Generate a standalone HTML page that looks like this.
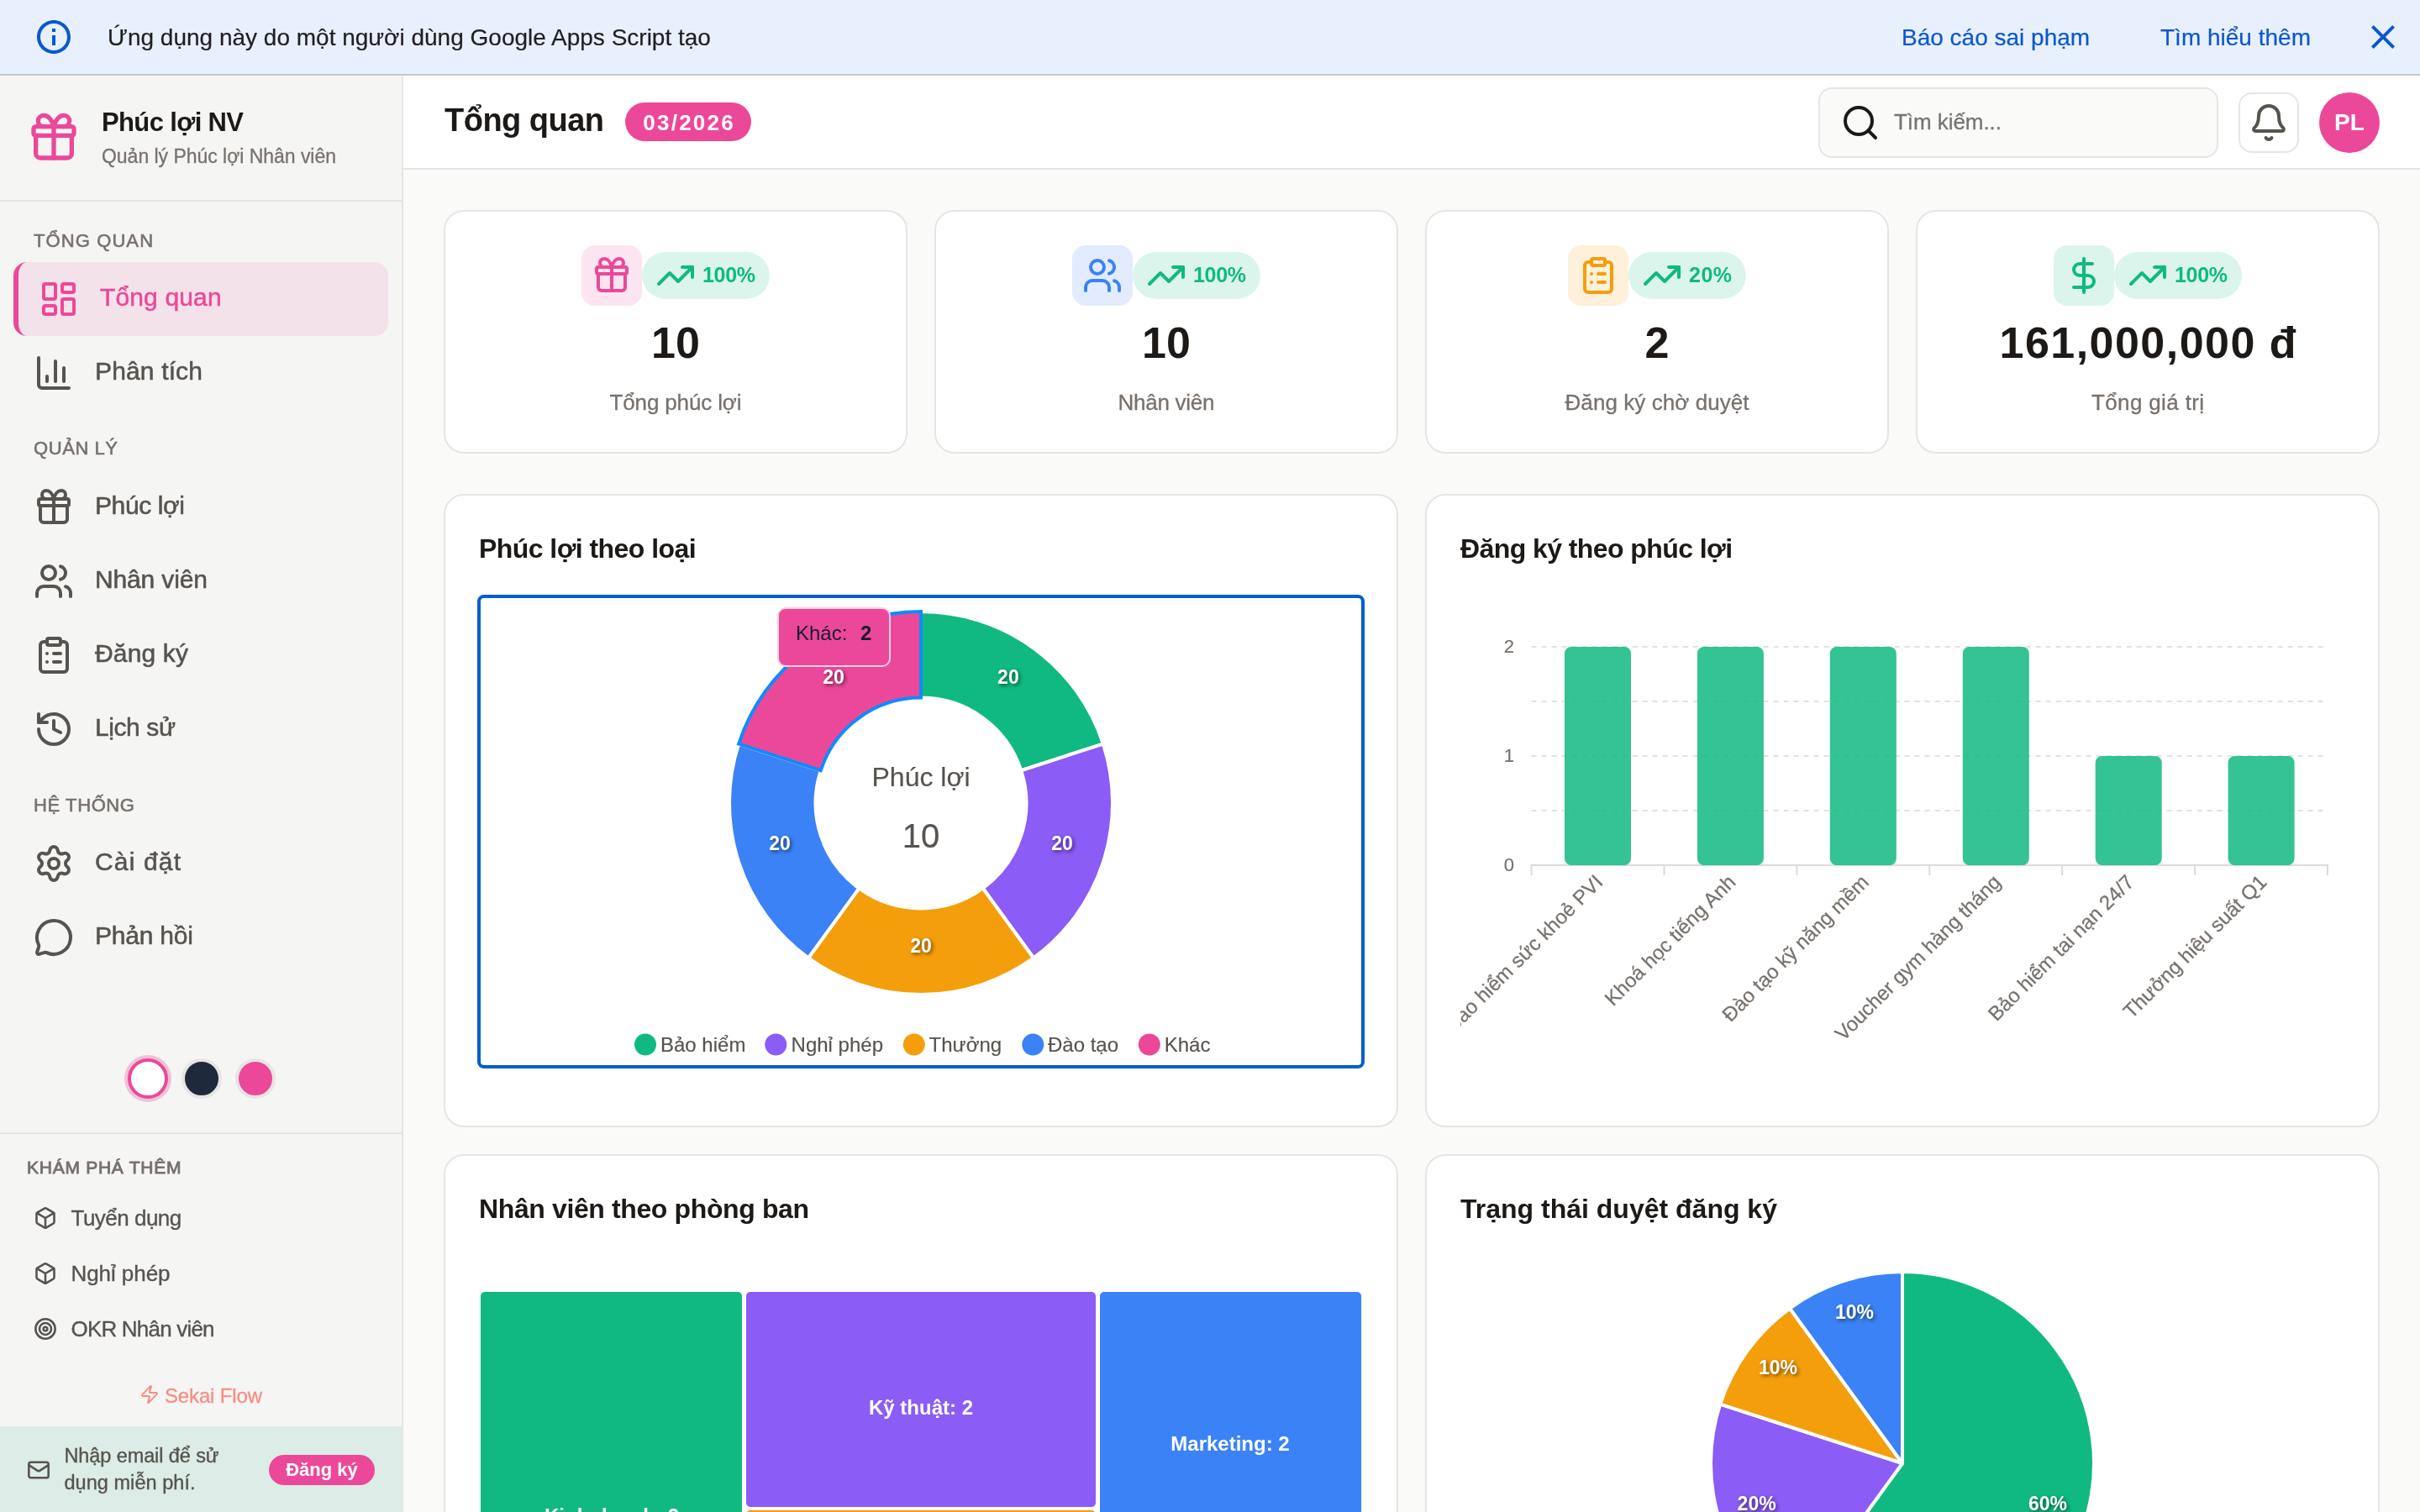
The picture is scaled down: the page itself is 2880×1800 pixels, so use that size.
<!DOCTYPE html><html lang="vi"><head><meta charset="utf-8"><title>Phúc lợi NV</title><style>
*{box-sizing:border-box;margin:0;padding:0}
html,body{width:2880px;height:1800px;overflow:hidden;background:#fafaf9;font-family:'Liberation Sans', sans-serif}
body{position:relative;will-change:transform}
.t{position:absolute;white-space:pre;display:block}
.ic{position:absolute;display:block;overflow:visible}
.banner{position:absolute;background:#e8f0fe;border-bottom:2px solid #c7c7c7}
.sidebar{position:absolute;background:#f5f5f4;border-right:2px solid #e7e5e4;overflow:hidden}
.sb-head{position:absolute;border-bottom:2px solid #e7e5e4}
.nav-active{position:absolute;border-radius:16px;background:#f4e2ea;border-left:6px solid #ec4899}
.dot{position:absolute;border-radius:50%;border:4px solid #e7e5e4;background-clip:padding-box}
.dot1{background:#fff;border:4px solid #ec4899;box-shadow:0 0 0 4px rgba(236,72,153,.3)}
.sb-div{position:absolute;background:#e7e5e4}
.sb-cta{position:absolute;background:#dcece6}
.cta-btn{position:absolute;border-radius:18px;background:#ec4899}
.topbar{position:absolute;background:#fff;border-bottom:2px solid #e7e5e4}
.badge{position:absolute;border-radius:23px;background:#ec4899}
.search{position:absolute;border-radius:16px;border:2px solid #e7e5e4;background:#fafaf9}
.bellbtn{position:absolute;border-radius:16px;border:2px solid #e7e5e4;background:#fff}
.avatar{position:absolute;border-radius:50%;background:#ec4899}
.main{position:absolute;background:#fafaf9;overflow:hidden}
.card{position:absolute;background:#fff;border:2px solid #e7e5e4;border-radius:24px}
.ibox{position:absolute;border-radius:16px}
.pct{position:absolute;border-radius:28px;background:#dbf5ec}
.focus{position:absolute;border:4px solid #005fcc;border-radius:8px}
.dl{text-shadow:2px 2px 4px rgba(0,0,0,.55)}
.tip{position:absolute;background:#ec4899;border:2px solid rgba(255,255,255,.75);border-radius:10px}
.tm{position:absolute;border-radius:5px}
.clip{position:absolute;overflow:hidden}
.xl{position:absolute;white-space:pre;font-size:24px;line-height:24px;color:#78716c;-webkit-text-stroke:.25px;transform-origin:100% 50%;transform:rotate(-45deg)}
</style></head><body><div class="banner" style="left:0px;top:0px;width:2880px;height:90px;"><svg class="ic" style="left:40px;top:20px" width="48" height="48" viewBox="0 0 24 24" fill="#0b57d0"><path d="M11 7h2v2h-2zm0 4h2v6h-2zm1-9C6.48 2 2 6.48 2 12s4.48 10 10 10 10-4.48 10-10S17.52 2 12 2zm0 18c-4.41 0-8-3.59-8-8s3.59-8 8-8 8 3.59 8 8-3.59 8-8 8z"/></svg><span class="t" style="left:128.0px;top:31.3px;font-size:28px;line-height:28px;color:#1f1f1f;-webkit-text-stroke:0.2px;">Ứng dụng này do một người dùng Google Apps Script tạo</span><span class="t" style="left:2263.0px;top:31.3px;font-size:28px;line-height:28px;color:#0b57d0;-webkit-text-stroke:0.2px;">Báo cáo sai phạm</span><span class="t" style="left:2571.0px;top:31.3px;font-size:28px;line-height:28px;color:#0b57d0;-webkit-text-stroke:0.2px;">Tìm hiểu thêm</span><svg class="ic" style="left:2812px;top:20px" width="48" height="48" viewBox="0 0 24 24" fill="#0b57d0"><path d="M19 6.41L17.59 5 12 10.59 6.41 5 5 6.41 10.59 12 5 17.59 6.41 19 12 13.41 17.59 19 19 17.59 13.41 12z"/></svg></div><aside class="sidebar" style="left:0px;top:90px;width:480px;height:1710px;"><div class="sb-head" style="left:0px;top:0px;width:478px;height:150px;"></div><svg class="ic" style="left:32px;top:42px" width="64" height="64" viewBox="0 0 24 24" fill="none" stroke="#ec4899" stroke-width="2" stroke-linecap="round" stroke-linejoin="round"><rect x="3" y="7" width="18" height="4" rx="1"/><path d="M12 7v14"/><path d="M20 11v8a2 2 0 0 1-2 2H6a2 2 0 0 1-2-2v-8"/><path d="M7.5 7a2.5 2.5 0 0 1 0-5A4.8 8 0 0 1 12 7a4.8 8 0 0 1 4.5-5 2.5 2.5 0 0 1 0 5"/></svg><span class="t" style="left:121.0px;top:39.8px;font-size:31px;line-height:31px;color:#1c1917;font-weight:700;letter-spacing:-0.63px;">Phúc lợi NV</span><span class="t" style="left:121.0px;top:84.9px;font-size:23px;line-height:23px;color:#78716c;letter-spacing:-0.03px;-webkit-text-stroke:0.3px;">Quản lý Phúc lợi Nhân viên</span><span class="t" style="left:40.0px;top:186.2px;font-size:22px;line-height:22px;color:#78716c;letter-spacing:1.1px;-webkit-text-stroke:0.6px;">TỔNG QUAN</span><span class="t" style="left:40.0px;top:433.2px;font-size:22px;line-height:22px;color:#78716c;letter-spacing:0.57px;-webkit-text-stroke:0.6px;">QUẢN LÝ</span><span class="t" style="left:40.0px;top:858.2px;font-size:22px;line-height:22px;color:#78716c;letter-spacing:0.61px;-webkit-text-stroke:0.6px;">HỆ THỐNG</span><div class="nav-active" style="left:16px;top:222px;width:446px;height:88px;"></div><svg class="ic" style="left:46px;top:242px" width="48" height="48" viewBox="0 0 24 24" fill="none" stroke="#ec4899" stroke-width="2" stroke-linecap="round" stroke-linejoin="round"><rect width="7" height="9" x="3" y="3" rx="1"/><rect width="7" height="5" x="14" y="3" rx="1"/><rect width="7" height="9" x="14" y="12" rx="1"/><rect width="7" height="5" x="3" y="16" rx="1"/></svg><span class="t" style="left:119.0px;top:248.7px;font-size:30px;line-height:30px;color:#ec4899;letter-spacing:0.14px;-webkit-text-stroke:0.55px;">Tổng quan</span><svg class="ic" style="left:40px;top:330px" width="48" height="48" viewBox="0 0 24 24" fill="none" stroke="#57534e" stroke-width="2" stroke-linecap="round" stroke-linejoin="round"><path d="M3 3v16a2 2 0 0 0 2 2h16"/><path d="M18 17V9"/><path d="M13 17V5"/><path d="M8 17v-3"/></svg><span class="t" style="left:113.0px;top:336.6px;font-size:30px;line-height:30px;color:#57534e;letter-spacing:0.15px;-webkit-text-stroke:0.55px;">Phân tích</span><svg class="ic" style="left:40px;top:490px" width="48" height="48" viewBox="0 0 24 24" fill="none" stroke="#57534e" stroke-width="2" stroke-linecap="round" stroke-linejoin="round"><rect x="3" y="7" width="18" height="4" rx="1"/><path d="M12 7v14"/><path d="M20 11v8a2 2 0 0 1-2 2H6a2 2 0 0 1-2-2v-8"/><path d="M7.5 7a2.5 2.5 0 0 1 0-5A4.8 8 0 0 1 12 7a4.8 8 0 0 1 4.5-5 2.5 2.5 0 0 1 0 5"/></svg><span class="t" style="left:113.0px;top:496.6px;font-size:30px;line-height:30px;color:#57534e;letter-spacing:-0.39px;-webkit-text-stroke:0.55px;">Phúc lợi</span><svg class="ic" style="left:40px;top:578px" width="48" height="48" viewBox="0 0 24 24" fill="none" stroke="#57534e" stroke-width="2" stroke-linecap="round" stroke-linejoin="round"><path d="M16 21v-2a4 4 0 0 0-4-4H6a4 4 0 0 0-4 4v2"/><circle cx="9" cy="7" r="4"/><path d="M22 21v-2a4 4 0 0 0-3-3.87"/><path d="M16 3.13a4 4 0 0 1 0 7.75"/></svg><span class="t" style="left:113.0px;top:584.6px;font-size:30px;line-height:30px;color:#57534e;letter-spacing:-0.14px;-webkit-text-stroke:0.55px;">Nhân viên</span><svg class="ic" style="left:40px;top:666px" width="48" height="48" viewBox="0 0 24 24" fill="none" stroke="#57534e" stroke-width="2" stroke-linecap="round" stroke-linejoin="round"><rect width="8" height="4" x="8" y="2" rx="1" ry="1"/><path d="M16 4h2a2 2 0 0 1 2 2v14a2 2 0 0 1-2 2H6a2 2 0 0 1-2-2V6a2 2 0 0 1 2-2h2"/><path d="M12 11h4"/><path d="M12 16h4"/><path d="M8 11h.01"/><path d="M8 16h.01"/></svg><span class="t" style="left:113.0px;top:672.6px;font-size:30px;line-height:30px;color:#57534e;letter-spacing:0.16px;-webkit-text-stroke:0.55px;">Đăng ký</span><svg class="ic" style="left:40px;top:754px" width="48" height="48" viewBox="0 0 24 24" fill="none" stroke="#57534e" stroke-width="2" stroke-linecap="round" stroke-linejoin="round"><path d="M3 12a9 9 0 1 0 9-9 9.75 9.75 0 0 0-6.74 2.74L3 8"/><path d="M3 3v5h5"/><path d="M12 7v5l4 2"/></svg><span class="t" style="left:113.0px;top:760.6px;font-size:30px;line-height:30px;color:#57534e;letter-spacing:-0.41px;-webkit-text-stroke:0.55px;">Lịch sử</span><svg class="ic" style="left:40px;top:914px" width="48" height="48" viewBox="0 0 24 24" fill="none" stroke="#57534e" stroke-width="2" stroke-linecap="round" stroke-linejoin="round"><path d="M9.671 4.136a2.34 2.34 0 0 1 4.659 0 2.34 2.34 0 0 0 3.319 1.915 2.34 2.34 0 0 1 2.33 4.033 2.34 2.34 0 0 0 0 3.831 2.34 2.34 0 0 1-2.33 4.033 2.34 2.34 0 0 0-3.319 1.915 2.34 2.34 0 0 1-4.659 0 2.34 2.34 0 0 0-3.32-1.915 2.34 2.34 0 0 1-2.33-4.033 2.34 2.34 0 0 0 0-3.831A2.34 2.34 0 0 1 6.35 6.051a2.34 2.34 0 0 0 3.319-1.915"/><circle cx="12" cy="12" r="3"/></svg><span class="t" style="left:113.0px;top:920.6px;font-size:30px;line-height:30px;color:#57534e;letter-spacing:1.16px;-webkit-text-stroke:0.55px;">Cài đặt</span><svg class="ic" style="left:40px;top:1002px" width="48" height="48" viewBox="0 0 24 24" fill="none" stroke="#57534e" stroke-width="2" stroke-linecap="round" stroke-linejoin="round"><path d="M2.992 16.342a2 2 0 0 1 .094 1.167l-1.065 3.29a1 1 0 0 0 1.236 1.168l3.413-.998a2 2 0 0 1 1.099.092 10 10 0 1 0-4.777-4.719"/></svg><span class="t" style="left:113.0px;top:1008.6px;font-size:30px;line-height:30px;color:#57534e;letter-spacing:-0.21px;-webkit-text-stroke:0.55px;">Phản hồi</span><div class="dot dot1" style="left:152px;top:1170px;width:48px;height:48px;"></div><div class="dot" style="left:216px;top:1170px;width:48px;height:48px;background:#1e293b"></div><div class="dot" style="left:280px;top:1170px;width:48px;height:48px;background:#ec4899"></div><div class="sb-div" style="left:0px;top:1258px;width:478px;height:2px;"></div><span class="t" style="left:32.0px;top:1288.8px;font-size:21px;line-height:21px;color:#78716c;letter-spacing:0.74px;-webkit-text-stroke:0.9px;">KHÁM PHÁ THÊM</span><svg class="ic" style="left:40px;top:1346px" width="28" height="28" viewBox="0 0 24 24" fill="none" stroke="#57534e" stroke-width="2.2" stroke-linecap="round" stroke-linejoin="round"><path d="M21 8a2 2 0 0 0-1-1.73l-7-4a2 2 0 0 0-2 0l-7 4A2 2 0 0 0 3 8v8a2 2 0 0 0 1 1.73l7 4a2 2 0 0 0 2 0l7-4A2 2 0 0 0 21 16Z"/><path d="m3.3 7 8.7 5 8.7-5"/><path d="M12 22V12"/></svg><span class="t" style="left:84.5px;top:1346.5px;font-size:26px;line-height:26px;color:#57534e;letter-spacing:-0.51px;-webkit-text-stroke:0.35px;">Tuyển dụng</span><svg class="ic" style="left:40px;top:1412px" width="28" height="28" viewBox="0 0 24 24" fill="none" stroke="#57534e" stroke-width="2.2" stroke-linecap="round" stroke-linejoin="round"><path d="M21 8a2 2 0 0 0-1-1.73l-7-4a2 2 0 0 0-2 0l-7 4A2 2 0 0 0 3 8v8a2 2 0 0 0 1 1.73l7 4a2 2 0 0 0 2 0l7-4A2 2 0 0 0 21 16Z"/><path d="m3.3 7 8.7 5 8.7-5"/><path d="M12 22V12"/></svg><span class="t" style="left:84.5px;top:1412.5px;font-size:26px;line-height:26px;color:#57534e;letter-spacing:-0.07px;-webkit-text-stroke:0.35px;">Nghỉ phép</span><svg class="ic" style="left:40px;top:1478px" width="28" height="28" viewBox="0 0 24 24" fill="none" stroke="#57534e" stroke-width="2.2" stroke-linecap="round" stroke-linejoin="round"><circle cx="12" cy="12" r="10"/><circle cx="12" cy="12" r="6"/><circle cx="12" cy="12" r="2"/></svg><span class="t" style="left:84.5px;top:1478.5px;font-size:26px;line-height:26px;color:#57534e;letter-spacing:-0.8px;-webkit-text-stroke:0.35px;">OKR Nhân viên</span><svg class="ic" style="left:166px;top:1558px" width="24" height="24" viewBox="0 0 24 24" fill="none" stroke="#f88d84" stroke-width="2" stroke-linecap="round" stroke-linejoin="round"><path d="M4 14a1 1 0 0 1-.78-1.63l9.9-10.2a.5.5 0 0 1 .86.46l-1.92 6.02A1 1 0 0 0 13 10h7a1 1 0 0 1 .78 1.63l-9.9 10.2a.5.5 0 0 1-.86-.46l1.92-6.02A1 1 0 0 0 11 14z"/></svg><span class="t" style="left:196.0px;top:1559.7px;font-size:24px;line-height:24px;color:#f88d84;letter-spacing:-0.15px;-webkit-text-stroke:0.3px;">Sekai Flow</span><div class="sb-cta" style="left:0px;top:1608px;width:478px;height:102px;"></div><svg class="ic" style="left:32px;top:1646px" width="28" height="28" viewBox="0 0 24 24" fill="none" stroke="#57534e" stroke-width="2.2" stroke-linecap="round" stroke-linejoin="round"><rect width="20" height="16" x="2" y="4" rx="2"/><path d="m22 7-8.97 5.7a1.94 1.94 0 0 1-2.06 0L2 7"/></svg><span class="t" style="left:76.5px;top:1631.6px;font-size:23.5px;line-height:23.5px;color:#57534e;letter-spacing:-0.1px;-webkit-text-stroke:0.35px;">Nhập email để sử</span><span class="t" style="left:76.5px;top:1663.6px;font-size:23.5px;line-height:23.5px;color:#57534e;letter-spacing:0.04px;-webkit-text-stroke:0.35px;">dụng miễn phí.</span><div class="cta-btn" style="left:320px;top:1642px;width:126px;height:36px;"></div><span class="t" style="left:340.2px;top:1649.4px;font-size:22px;line-height:22px;color:#fff;font-weight:700;">Đăng ký</span></aside><header class="topbar" style="left:480px;top:90px;width:2400px;height:112px;"><span class="t" style="left:49.0px;top:33.9px;font-size:38px;line-height:38px;color:#1c1917;font-weight:700;letter-spacing:-0.52px;">Tổng quan</span><div class="badge" style="left:264px;top:32px;width:150px;height:46px;"></div><span class="t" style="left:285.2px;top:43.0px;font-size:26px;line-height:26px;color:#fff;font-weight:700;letter-spacing:2.27px;">03/2026</span><div class="search" style="left:1684px;top:14px;width:476px;height:84px;"></div><svg class="ic" style="left:1710px;top:32px" width="48" height="48" viewBox="0 0 24 24" fill="none" stroke="#1c1917" stroke-width="2" stroke-linecap="round" stroke-linejoin="round"><circle cx="11" cy="11" r="8"/><path d="m21 21-4.3-4.3"/></svg><span class="t" style="left:1774.0px;top:42.0px;font-size:26px;line-height:26px;color:#757575;letter-spacing:-0.06px;-webkit-text-stroke:0.3px;">Tìm kiếm...</span><div class="bellbtn" style="left:2184px;top:20px;width:72px;height:72px;"></div><svg class="ic" style="left:2196px;top:32px" width="48" height="48" viewBox="0 0 24 24" fill="none" stroke="#57534e" stroke-width="2" stroke-linecap="round" stroke-linejoin="round"><path d="M10.268 21a2 2 0 0 0 3.464 0"/><path d="M3.262 15.326A1 1 0 0 0 4 17h16a1 1 0 0 0 .74-1.673C19.41 13.956 18 12.499 18 8A6 6 0 0 0 6 8c0 4.499-1.411 5.956-2.738 7.326"/></svg><div class="avatar" style="left:2280px;top:20px;width:72px;height:72px;"></div><span class="t" style="left:2298.1px;top:42.3px;font-size:28px;line-height:28px;color:#fff;font-weight:700;">PL</span></header><main class="main" style="left:480px;top:202px;width:2400px;height:1598px;"><section class="card" style="left:48px;top:48px;width:552px;height:290px;"><div class="ibox" style="left:162px;top:40px;width:72px;height:72px;background:#fce4f0"></div><div class="pct" style="left:234px;top:48px;width:152px;height:56px;"></div><svg class="ic" style="left:174px;top:52px" width="48" height="48" viewBox="0 0 24 24" fill="none" stroke="#ec4899" stroke-width="2" stroke-linecap="round" stroke-linejoin="round"><rect x="3" y="7" width="18" height="4" rx="1"/><path d="M12 7v14"/><path d="M20 11v8a2 2 0 0 1-2 2H6a2 2 0 0 1-2-2v-8"/><path d="M7.5 7a2.5 2.5 0 0 1 0-5A4.8 8 0 0 1 12 7a4.8 8 0 0 1 4.5-5 2.5 2.5 0 0 1 0 5"/></svg><svg class="ic" style="left:250px;top:52px" width="48" height="48" viewBox="0 0 24 24" fill="none" stroke="#10b981" stroke-width="2" stroke-linecap="round" stroke-linejoin="round"><polyline points="22 7 13.5 15.5 8.5 10.5 2 17"/><polyline points="16 7 22 7 22 13"/></svg><span class="t" style="left:306.0px;top:62.9px;font-size:25px;line-height:25px;color:#10b981;font-weight:700;letter-spacing:-0.32px;">100%</span><span class="t" style="left:245.1px;top:130.1px;font-size:52px;line-height:52px;color:#1c1917;font-weight:700;">10</span><span class="t" style="left:195.5px;top:214.3px;font-size:26px;line-height:26px;color:#78716c;letter-spacing:-0.14px;-webkit-text-stroke:0.3px;">Tổng phúc lợi</span></section><section class="card" style="left:632px;top:48px;width:552px;height:290px;"><div class="ibox" style="left:162px;top:40px;width:72px;height:72px;background:#e2ecfe"></div><div class="pct" style="left:234px;top:48px;width:152px;height:56px;"></div><svg class="ic" style="left:174px;top:52px" width="48" height="48" viewBox="0 0 24 24" fill="none" stroke="#3b82f6" stroke-width="2" stroke-linecap="round" stroke-linejoin="round"><path d="M16 21v-2a4 4 0 0 0-4-4H6a4 4 0 0 0-4 4v2"/><circle cx="9" cy="7" r="4"/><path d="M22 21v-2a4 4 0 0 0-3-3.87"/><path d="M16 3.13a4 4 0 0 1 0 7.75"/></svg><svg class="ic" style="left:250px;top:52px" width="48" height="48" viewBox="0 0 24 24" fill="none" stroke="#10b981" stroke-width="2" stroke-linecap="round" stroke-linejoin="round"><polyline points="22 7 13.5 15.5 8.5 10.5 2 17"/><polyline points="16 7 22 7 22 13"/></svg><span class="t" style="left:306.0px;top:62.9px;font-size:25px;line-height:25px;color:#10b981;font-weight:700;letter-spacing:-0.32px;">100%</span><span class="t" style="left:245.1px;top:130.1px;font-size:52px;line-height:52px;color:#1c1917;font-weight:700;">10</span><span class="t" style="left:216.5px;top:214.3px;font-size:26px;line-height:26px;color:#78716c;letter-spacing:-0.26px;-webkit-text-stroke:0.3px;">Nhân viên</span></section><section class="card" style="left:1216px;top:48px;width:552px;height:290px;"><div class="ibox" style="left:168px;top:40px;width:72px;height:72px;background:#fef0da"></div><div class="pct" style="left:240px;top:48px;width:140px;height:56px;"></div><svg class="ic" style="left:180px;top:52px" width="48" height="48" viewBox="0 0 24 24" fill="none" stroke="#f59e0b" stroke-width="2" stroke-linecap="round" stroke-linejoin="round"><rect width="8" height="4" x="8" y="2" rx="1" ry="1"/><path d="M16 4h2a2 2 0 0 1 2 2v14a2 2 0 0 1-2 2H6a2 2 0 0 1-2-2V6a2 2 0 0 1 2-2h2"/><path d="M12 11h4"/><path d="M12 16h4"/><path d="M8 11h.01"/><path d="M8 16h.01"/></svg><svg class="ic" style="left:256px;top:52px" width="48" height="48" viewBox="0 0 24 24" fill="none" stroke="#10b981" stroke-width="2" stroke-linecap="round" stroke-linejoin="round"><polyline points="22 7 13.5 15.5 8.5 10.5 2 17"/><polyline points="16 7 22 7 22 13"/></svg><span class="t" style="left:312.0px;top:62.9px;font-size:25px;line-height:25px;color:#10b981;font-weight:700;letter-spacing:0.48px;">20%</span><span class="t" style="left:259.5px;top:130.1px;font-size:52px;line-height:52px;color:#1c1917;font-weight:700;">2</span><span class="t" style="left:164.5px;top:214.3px;font-size:26px;line-height:26px;color:#78716c;letter-spacing:0.07px;-webkit-text-stroke:0.3px;">Đăng ký chờ duyệt</span></section><section class="card" style="left:1800px;top:48px;width:552px;height:290px;"><div class="ibox" style="left:162px;top:40px;width:72px;height:72px;background:#dbf5ec"></div><div class="pct" style="left:234px;top:48px;width:152px;height:56px;"></div><svg class="ic" style="left:174px;top:52px" width="48" height="48" viewBox="0 0 24 24" fill="none" stroke="#10b981" stroke-width="2" stroke-linecap="round" stroke-linejoin="round"><line x1="12" x2="12" y1="2" y2="22"/><path d="M17 5H9.5a3.5 3.5 0 0 0 0 7h5a3.5 3.5 0 0 1 0 7H6"/></svg><svg class="ic" style="left:250px;top:52px" width="48" height="48" viewBox="0 0 24 24" fill="none" stroke="#10b981" stroke-width="2" stroke-linecap="round" stroke-linejoin="round"><polyline points="22 7 13.5 15.5 8.5 10.5 2 17"/><polyline points="16 7 22 7 22 13"/></svg><span class="t" style="left:306.0px;top:62.9px;font-size:25px;line-height:25px;color:#10b981;font-weight:700;letter-spacing:-0.32px;">100%</span><span class="t" style="left:97.5px;top:130.1px;font-size:52px;line-height:52px;color:#1c1917;font-weight:700;letter-spacing:1.47px;">161,000,000 đ</span><span class="t" style="left:207.0px;top:214.3px;font-size:26px;line-height:26px;color:#78716c;letter-spacing:0.36px;-webkit-text-stroke:0.3px;">Tổng giá trị</span></section><section class="card" style="left:48px;top:386px;width:1136px;height:754px;"><span class="t" style="left:40.0px;top:46.7px;font-size:32px;line-height:32px;color:#1c1917;font-weight:700;letter-spacing:-0.56px;">Phúc lợi theo loại</span><div class="focus" style="left:38px;top:118px;width:1056px;height:564px;"></div><svg class="ic" style="left:42px;top:122px" width="1048" height="556" viewBox="572 712 1048 556"><path d="M1096.00 728.00A228 228 0 0 1 1312.84 885.54L1215.26 917.25A125.4 125.4 0 0 0 1096.00 830.60Z" fill="#10b981" stroke="#fff" stroke-width="4" stroke-linejoin="round"/><path d="M1312.84 885.54A228 228 0 0 1 1230.02 1140.46L1169.71 1057.45A125.4 125.4 0 0 0 1215.26 917.25Z" fill="#8b5cf6" stroke="#fff" stroke-width="4" stroke-linejoin="round"/><path d="M1230.02 1140.46A228 228 0 0 1 961.98 1140.46L1022.29 1057.45A125.4 125.4 0 0 0 1169.71 1057.45Z" fill="#f59e0b" stroke="#fff" stroke-width="4" stroke-linejoin="round"/><path d="M961.98 1140.46A228 228 0 0 1 879.16 885.54L976.74 917.25A125.4 125.4 0 0 0 1022.29 1057.45Z" fill="#3b82f6" stroke="#fff" stroke-width="4" stroke-linejoin="round"/><path d="M879.16 885.54A228 228 0 0 1 1096.00 728.00L1096.00 830.60A125.4 125.4 0 0 0 976.74 917.25Z" fill="#ec4899" stroke="#0d8bff" stroke-width="4" stroke-linejoin="miter"/><circle cx="768" cy="1243.5" r="13" fill="#10b981"/><circle cx="923.3" cy="1243.5" r="13" fill="#8b5cf6"/><circle cx="1087.8" cy="1243.5" r="13" fill="#f59e0b"/><circle cx="1229.3" cy="1243.5" r="13" fill="#3b82f6"/><circle cx="1367.8" cy="1243.5" r="13" fill="#ec4899"/></svg><span class="t dl" style="left:657.1px;top:205.1px;font-size:23px;line-height:23px;color:#fff;font-weight:700;">20</span><span class="t dl" style="left:721.3px;top:402.7px;font-size:23px;line-height:23px;color:#fff;font-weight:700;">20</span><span class="t dl" style="left:553.2px;top:524.8px;font-size:23px;line-height:23px;color:#fff;font-weight:700;">20</span><span class="t dl" style="left:385.2px;top:402.7px;font-size:23px;line-height:23px;color:#fff;font-weight:700;">20</span><span class="t dl" style="left:449.3px;top:205.1px;font-size:23px;line-height:23px;color:#fff;font-weight:700;">20</span><span class="t" style="left:507.5px;top:318.7px;font-size:32px;line-height:32px;color:#57534e;-webkit-text-stroke:0.15px;">Phúc lợi</span><span class="t" style="left:543.8px;top:384.5px;font-size:40px;line-height:40px;color:#57534e;-webkit-text-stroke:0.15px;">10</span><span class="t" style="left:256.0px;top:641.7px;font-size:24px;line-height:24px;color:#57534e;-webkit-text-stroke:0.15px;">Bảo hiểm</span><span class="t" style="left:411.6px;top:641.7px;font-size:24px;line-height:24px;color:#57534e;-webkit-text-stroke:0.15px;">Nghỉ phép</span><span class="t" style="left:575.6px;top:641.7px;font-size:24px;line-height:24px;color:#57534e;-webkit-text-stroke:0.15px;">Thưởng</span><span class="t" style="left:717.0px;top:641.7px;font-size:24px;line-height:24px;color:#57534e;-webkit-text-stroke:0.15px;">Đào tạo</span><span class="t" style="left:855.7px;top:641.7px;font-size:24px;line-height:24px;color:#57534e;-webkit-text-stroke:0.15px;">Khác</span><div class="tip" style="left:395px;top:133px;width:135px;height:71px;"></div><span class="t" style="left:417.0px;top:151.7px;font-size:24px;line-height:24px;color:#1a1a2e;">Khác:</span><span class="t" style="left:494.0px;top:151.7px;font-size:24px;line-height:24px;color:#1a1a2e;font-weight:700;">2</span></section><section class="card" style="left:1216px;top:386px;width:1136px;height:754px;"><span class="t" style="left:40.0px;top:46.7px;font-size:32px;line-height:32px;color:#1c1917;font-weight:700;letter-spacing:-0.58px;">Đăng ký theo phúc lợi</span><svg class="ic" style="left:40px;top:122px" width="1052" height="560" viewBox="1738 712 1052 560"><line x1="1822.6" y1="770" x2="2770" y2="770" stroke="#e3e1df" stroke-width="2" stroke-dasharray="6 6"/><line x1="1822.6" y1="835" x2="2770" y2="835" stroke="#e3e1df" stroke-width="2" stroke-dasharray="6 6"/><line x1="1822.6" y1="900" x2="2770" y2="900" stroke="#e3e1df" stroke-width="2" stroke-dasharray="6 6"/><line x1="1822.6" y1="965" x2="2770" y2="965" stroke="#e3e1df" stroke-width="2" stroke-dasharray="6 6"/><line x1="1821.6" y1="1030" x2="2771" y2="1030" stroke="#dddbd9" stroke-width="2"/><line x1="1822.6" y1="1030" x2="1822.6" y2="1042" stroke="#dddbd9" stroke-width="2"/><line x1="1980.5" y1="1030" x2="1980.5" y2="1042" stroke="#dddbd9" stroke-width="2"/><line x1="2138.4" y1="1030" x2="2138.4" y2="1042" stroke="#dddbd9" stroke-width="2"/><line x1="2296.3" y1="1030" x2="2296.3" y2="1042" stroke="#dddbd9" stroke-width="2"/><line x1="2454.2" y1="1030" x2="2454.2" y2="1042" stroke="#dddbd9" stroke-width="2"/><line x1="2612.1" y1="1030" x2="2612.1" y2="1042" stroke="#dddbd9" stroke-width="2"/><line x1="2770.0" y1="1030" x2="2770.0" y2="1042" stroke="#dddbd9" stroke-width="2"/><rect x="1862.0" y="770" width="79" height="260" rx="8" fill="rgba(16,185,129,.85)"/><rect x="2019.9" y="770" width="79" height="260" rx="8" fill="rgba(16,185,129,.85)"/><rect x="2177.8" y="770" width="79" height="260" rx="8" fill="rgba(16,185,129,.85)"/><rect x="2335.8" y="770" width="79" height="260" rx="8" fill="rgba(16,185,129,.85)"/><rect x="2493.7" y="900" width="79" height="130" rx="8" fill="rgba(16,185,129,.85)"/><rect x="2651.6" y="900" width="79" height="130" rx="8" fill="rgba(16,185,129,.85)"/></svg><span class="t" style="left:91.8px;top:168.6px;font-size:22px;line-height:22px;color:#78716c;-webkit-text-stroke:0.2px;">2</span><span class="t" style="left:91.8px;top:298.6px;font-size:22px;line-height:22px;color:#78716c;-webkit-text-stroke:0.2px;">1</span><span class="t" style="left:91.8px;top:428.6px;font-size:22px;line-height:22px;color:#78716c;-webkit-text-stroke:0.2px;">0</span><div class="clip" style="left:40px;top:440px;width:1052px;height:242px;"><span class="xl" style="right:886.5px;top:4.4px">Bảo hiểm sức khoẻ PVI</span><span class="xl" style="right:728.6px;top:4.4px">Khoá học tiếng Anh</span><span class="xl" style="right:570.7px;top:4.4px">Đào tạo kỹ năng mềm</span><span class="xl" style="right:412.8px;top:4.4px">Voucher gym hàng tháng</span><span class="xl" style="right:254.8px;top:4.4px">Bảo hiểm tai nạn 24/7</span><span class="xl" style="right:96.9px;top:4.4px">Thưởng hiệu suất Q1</span></div></section><section class="card" style="left:48px;top:1172px;width:1136px;height:700px;"><span class="t" style="left:40.0px;top:46.7px;font-size:32px;line-height:32px;color:#1c1917;font-weight:700;letter-spacing:-0.38px;">Nhân viên theo phòng ban</span><div class="tm" style="left:42px;top:162px;width:311px;height:300px;background:#10b981"></div><div class="tm" style="left:358px;top:162px;width:416px;height:256px;background:#8b5cf6"></div><div class="tm" style="left:358px;top:422px;width:416px;height:40px;background:#f59e0b"></div><div class="tm" style="left:779px;top:162px;width:311px;height:300px;background:#3b82f6"></div><span class="t" style="left:504.0px;top:287.7px;font-size:24px;line-height:24px;color:#fff;font-weight:700;">Kỹ thuật: 2</span><span class="t" style="left:863.3px;top:331.2px;font-size:24px;line-height:24px;color:#fff;font-weight:700;">Marketing: 2</span><span class="t" style="left:118.0px;top:416.7px;font-size:24px;line-height:24px;color:#fff;font-weight:700;">Kinh doanh: 2</span></section><section class="card" style="left:1216px;top:1172px;width:1136px;height:700px;"><span class="t" style="left:40.0px;top:46.7px;font-size:32px;line-height:32px;color:#1c1917;font-weight:700;">Trạng thái duyệt đăng ký</span><svg class="ic" style="left:40px;top:124px" width="1052" height="300" viewBox="1738 1500 1052 300"><path d="M2264 1742L2264.00 1514.00A228 228 0 1 1 2129.98 1926.46Z" fill="#10b981" stroke="#fff" stroke-width="4" stroke-linejoin="round"/><path d="M2264 1742L2129.98 1926.46A228 228 0 0 1 2047.16 1671.54Z" fill="#8b5cf6" stroke="#fff" stroke-width="4" stroke-linejoin="round"/><path d="M2264 1742L2047.16 1671.54A228 228 0 0 1 2129.98 1557.54Z" fill="#f59e0b" stroke="#fff" stroke-width="4" stroke-linejoin="round"/><path d="M2264 1742L2129.98 1557.54A228 228 0 0 1 2264.00 1514.00Z" fill="#3b82f6" stroke="#fff" stroke-width="4" stroke-linejoin="round"/></svg><span class="t dl" style="left:486.0px;top:174.6px;font-size:23px;line-height:23px;color:#fff;font-weight:700;">10%</span><span class="t dl" style="left:395.0px;top:240.6px;font-size:23px;line-height:23px;color:#fff;font-weight:700;">10%</span><span class="t dl" style="left:369.6px;top:402.6px;font-size:23px;line-height:23px;color:#fff;font-weight:700;">20%</span><span class="t dl" style="left:716.0px;top:402.6px;font-size:23px;line-height:23px;color:#fff;font-weight:700;">60%</span></section></main></body></html>
